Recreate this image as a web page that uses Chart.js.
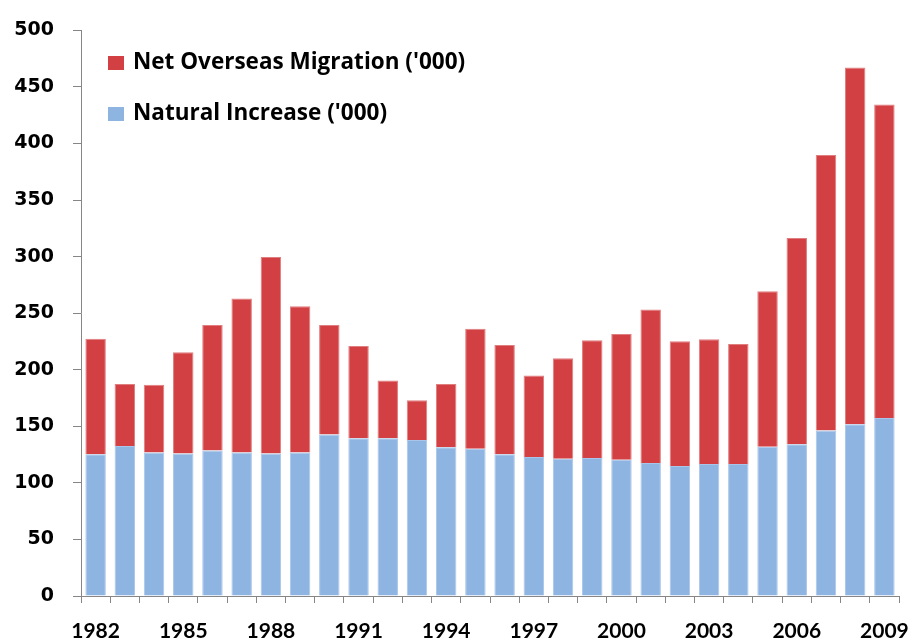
<!DOCTYPE html>
<html>
<head>
<meta charset="utf-8">
<script src="https://cdn.jsdelivr.net/npm/chart.js@4/dist/chart.umd.min.js"></script>
<style>
  html, body { margin: 0; padding: 0; background: #fff; }
  #wrap { width: 909px; height: 641px; }
</style>
</head>
<body>
<div id="wrap"><canvas id="popChart" width="909" height="641"></canvas></div>
<script>
// years shown on the x axis
const years = ['1982','1983','1984','1985','1986','1987','1988','1989','1990','1991',
               '1992','1993','1994','1995','1996','1997','1998','1999','2000','2001',
               '2002','2003','2004','2005','2006','2007','2008','2009'];

// Natural Increase ('000) - bottom of the stack
const naturalIncrease = [125.2, 132.5, 126.9, 126.0, 128.6, 126.9, 126.0, 126.9, 142.7, 139.5,
                         139.5, 138.0, 131.6, 130.1, 125.4, 122.8, 121.4, 122.0, 120.5, 117.6,
                         115.0, 116.7, 116.7, 131.9, 134.2, 146.2, 151.8, 157.3];

// Net Overseas Migration ('000) - stacked on top
const netMigration = [102.3, 54.9, 59.9, 89.5, 110.9, 136.0, 173.7, 129.2, 96.8, 81.6,
                      51.1, 35.1, 55.8, 106.2, 96.5, 72.2, 88.8, 104.0, 111.1, 135.6,
                      110.1, 110.2, 106.1, 137.4, 182.2, 243.6, 315.5, 277.2];

const yTicks = [0, 50, 100, 150, 200, 250, 300, 350, 400, 450, 500];

const axisGrey = '#868686';

// simple legend drawn in the top-left corner of the plot
const cornerLegend = {
    id: 'cornerLegend',
    afterDraw(chart) {
        const ctx = chart.ctx;
        const items = chart.data.datasets.slice().reverse();
        ctx.save();
        ctx.font = 'bold 22.5px "Open Sans", Lato, sans-serif';
        ctx.textBaseline = 'middle';
        items.forEach(function(ds, i) {
            const y = 63 + i * 51;
            ctx.fillStyle = ds.backgroundColor;
            ctx.fillRect(108, y - 7, 16, 14);
            ctx.fillStyle = '#000';
            ctx.fillText(ds.label, 133, y);
        });
        ctx.restore();
    }
};

const ctx = document.getElementById('popChart').getContext('2d');
new Chart(ctx, {
    type: 'bar',
    data: {
        labels: years,
        datasets: [{
            label: "Natural Increase ('000)",
            data: naturalIncrease,
            backgroundColor: '#8EB4E2',
            borderColor: '#A9C6EA',
            borderWidth: { left: 1, right: 1, top: 1, bottom: 0 },
            borderSkipped: false,
            barPercentage: 0.7,
            categoryPercentage: 1.0
        }, {
            label: "Net Overseas Migration ('000)",
            data: netMigration,
            backgroundColor: '#D24043',
            borderColor: '#E07D7F',
            borderWidth: { left: 1, right: 1, top: 1, bottom: 0 },
            borderSkipped: false,
            barPercentage: 0.7,
            categoryPercentage: 1.0
        }]
    },
    options: {
        responsive: false,
        animation: false,
        layout: { padding: { top: 26, right: 10, left: 0, bottom: 0 } },
        plugins: {
            legend: { display: false },
            tooltip: { enabled: false }
        },
        scales: {
            x: {
                stacked: true,
                grid: {
                    display: true,
                    drawOnChartArea: false,
                    drawTicks: true,
                    tickLength: 7,
                    color: axisGrey,
                    offset: true
                },
                border: { display: true, color: axisGrey, width: 1 },
                ticks: {
                    autoSkip: false,
                    maxRotation: 0,
                    padding: 16,
                    color: '#000',
                    font: { family: 'Lato, sans-serif', size: 21, weight: 'bold' },
                    callback: function(val, i) {
                        return i % 3 === 0 ? years[i] : '';
                    }
                },
                afterFit: function(scale) {
                    scale.height = 45;
                    scale.paddingRight = 0;
                    scale.paddingLeft = 0;
                }
            },
            y: {
                stacked: true,
                min: 0,
                max: 500,
                afterBuildTicks: function(scale) {
                    scale.ticks = yTicks.map(function(v) { return { value: v }; });
                },
                grid: {
                    display: true,
                    drawOnChartArea: false,
                    drawTicks: true,
                    tickLength: 8,
                    color: axisGrey
                },
                border: { display: true, color: axisGrey, width: 1 },
                ticks: {
                    padding: 19,
                    color: '#000',
                    font: { family: '"DejaVu Sans", sans-serif', size: 19, weight: 'bold' }
                },
                afterFit: function(scale) {
                    scale.width = 81;
                }
            }
        }
    },
    plugins: [cornerLegend]
});
</script>
</body>
</html>
